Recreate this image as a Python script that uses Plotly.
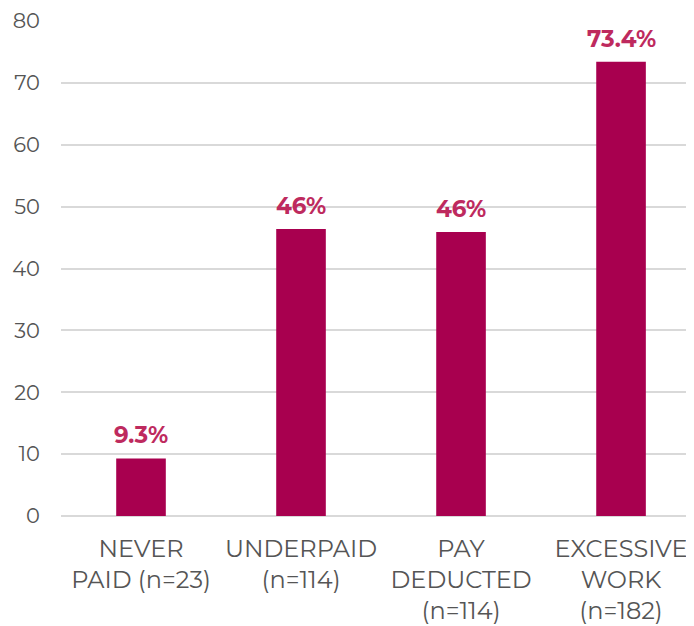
import plotly.graph_objects as go

categories = ["NEVER<br>PAID (n=23)", "UNDERPAID<br>(n=114)", "PAY<br>DEDUCTED<br>(n=114)", "EXCESSIVE<br>WORK<br>(n=182)"]
values = [9.3, 46.4, 45.9, 73.4]
value_labels = ["9.3%", "46%", "46%", "73.4%"]
y_ticks = [0, 10, 20, 30, 40, 50, 60, 70, 80]

bar_color = "#A8004F"
label_color = "#BE2A5E"
font_family = "Montserrat, Lato, 'Noto Sans', sans-serif"

fig = go.Figure(go.Bar(
    x=categories, y=values, width=0.31,
    marker=dict(color=bar_color, line=dict(width=0)),
    hoverinfo="skip",
))

for c, v, t in zip(categories, values, value_labels):
    fig.add_annotation(x=c, y=v, text=t, showarrow=False, yanchor="bottom", yshift=7,
                       font=dict(family=font_family, size=23, color=label_color, weight="bold"))

fig.update_layout(
    width=686, height=618,
    margin=dict(l=53, r=0, t=13, b=110),
    paper_bgcolor="white", plot_bgcolor="white",
    showlegend=False,
    font=dict(family=font_family, color="#555555"),
)
fig.update_xaxes(range=[-0.5, 3.456], showgrid=False, showline=False, ticks="",
                 tickfont=dict(size=24, color="#555555"), ticklabelstandoff=16)
fig.update_yaxes(range=[0, 80], tickvals=y_ticks, showgrid=True, gridcolor="#D9D9D9",
                 gridwidth=2, zeroline=True, zerolinecolor="#D9D9D9", zerolinewidth=2,
                 showline=False, ticks="", tickfont=dict(size=21, color="#555555"),
                 ticklabelstandoff=20)

fig.write_html("out.html")
